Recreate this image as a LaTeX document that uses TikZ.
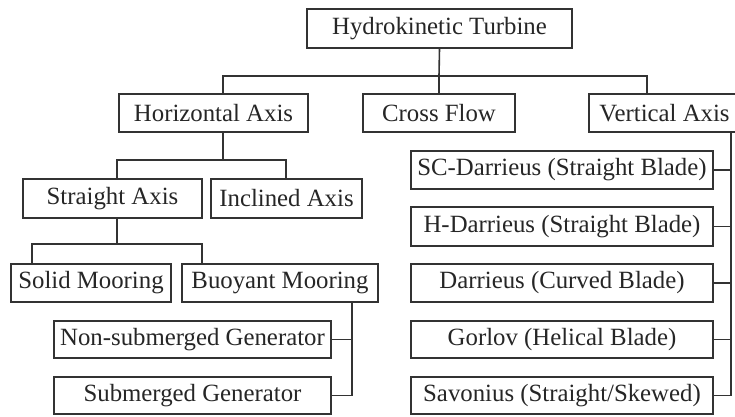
\documentclass[tikz,border=0pt]{standalone}
\usepackage{fontspec}
\setmainfont{Liberation Serif}
\begin{document}
\begin{tikzpicture}[x=1pt,y=-1pt,
  box/.style={draw=black!80,line width=1.6pt,inner sep=0pt,minimum height=38pt,text=black!85,font=\fontsize{24.8}{28}\selectfont},
  link/.style={draw=black!80,line width=1.6pt}]
\useasboundingbox[fill=white] (0,0) rectangle (735,416);
\node[box,minimum width=265pt,minimum height=39pt] (top) at (439.5,28.5) {Hydrokinetic Turbine};
\node[box,minimum width=189pt] (hor) at (213.5,113) {Horizontal Axis};
\node[box,minimum width=152pt] (cross) at (439,113) {Cross Flow};
\node[box,minimum width=151pt] (vert) at (664.5,113) {Vertical Axis};
\node[box,minimum width=302pt] (sc) at (562,170) {SC-Darrieus (Straight Blade)};
\node[box,minimum width=302pt,minimum height=39pt] (hd) at (562,226.5) {H-Darrieus (Straight Blade)};
\node[box,minimum width=302pt] (dar) at (562,283) {Darrieus (Curved Blade)};
\node[box,minimum width=302pt,minimum height=37pt] (gor) at (562,339.5) {Gorlov (Helical Blade)};
\node[box,minimum width=302pt,minimum height=37pt] (sav) at (562,395.5) {Savonius (Straight/Skewed)};
\node[box,minimum width=179pt,minimum height=39pt] (str) at (112.5,198.5) {Straight Axis};
\node[box,minimum width=151pt,minimum height=39pt] (inc) at (286.5,198.5) {Inclined Axis};
\node[box,minimum width=160pt] (sol) at (91,283) {Solid Mooring};
\node[box,minimum width=196pt] (buo) at (280,283) {Buoyant Mooring};
\node[box,minimum width=277pt,minimum height=37pt] (non) at (192.5,339.5) {Non-submerged Generator};
\node[box,minimum width=277pt,minimum height=37pt] (sub) at (192.5,395.5) {Submerged Generator};
% junction coordinates
\coordinate (j1) at (439,76);
\coordinate (xh) at (223,0);
\coordinate (xv) at (647,0);
\coordinate (j2) at (223,160);
\coordinate (xs) at (117,0);
\coordinate (xi) at (286,0);
\coordinate (j3) at (117,244);
\coordinate (xso) at (32,0);
\coordinate (xb) at (202,0);
\coordinate (xbd) at (352,0);
\coordinate (xvd) at (731,0);
% top level
\draw[link] (top.south) -- (j1);
\draw[link] (hor.north -| xh) |- (j1) -| (vert.north -| xv);
\draw[link] (j1) -- (cross.north);
% horizontal axis
\draw[link] (hor.south -| xh) -- (j2);
\draw[link] (str.north -| xs) |- (j2) -| (inc.north -| xi);
% straight axis
\draw[link] (str.south -| xs) -- (j3);
\draw[link] (sol.north -| xso) |- (j3) -| (buo.north -| xb);
% buoyant mooring
\draw[link] (buo.south -| xbd) |- (sub.east);
\draw[link] (non.east) -- (non.east -| xbd);
% vertical axis
\draw[link] (vert.south -| xvd) |- (sav.east);
\draw[link] (sc.east) -- (sc.east -| xvd);
\draw[link] (hd.east) -- (hd.east -| xvd);
\draw[link] (dar.east) -- (dar.east -| xvd);
\draw[link] (gor.east) -- (gor.east -| xvd);
\end{tikzpicture}
\end{document}
